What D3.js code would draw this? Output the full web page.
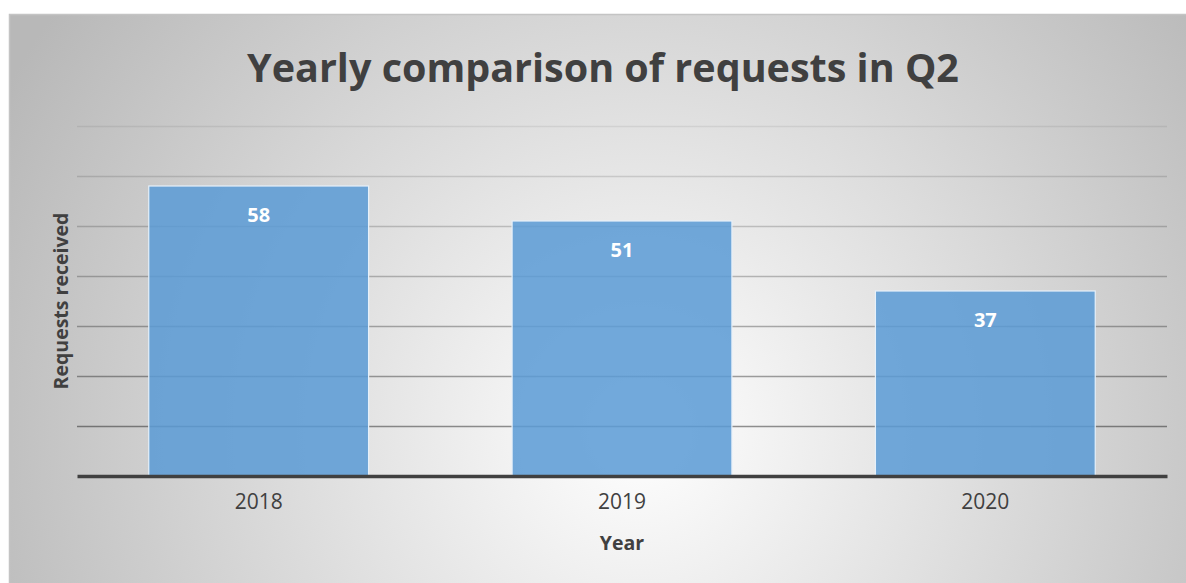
<!DOCTYPE html>
<html>
<head>
<meta charset="utf-8">
<script src="https://cdn.jsdelivr.net/npm/d3@7"></script>
<style>
  body { margin: 0; background: #fff; }
  svg { display: block; font-family: "Open Sans", "DejaVu Sans", sans-serif; }
</style>
</head>
<body>
<svg id="chart"></svg>
<script>
// chart data
const years = ['2018', '2019', '2020'];
const requests = [58, 51, 37];
const yTicks = [0, 10, 20, 30, 40, 50, 60, 70];

const width = 1186, height = 583;
const frame = {x: 9, y: 14};
const margin = {top: 126, right: 19, bottom: 107, left: 77};

const svg = d3.select('#chart')
    .attr('width', width)
    .attr('height', height);

// background gradient for the chart frame
const defs = svg.append('defs');
const bg = defs.append('radialGradient')
    .attr('id', 'bg-grad')
    .attr('gradientUnits', 'userSpaceOnUse')
    .attr('cx', 640).attr('cy', 430).attr('r', 720);
bg.append('stop').attr('offset', 0).attr('stop-color', '#ffffff');
bg.append('stop').attr('offset', 1).attr('stop-color', '#b8b8b8');

svg.append('rect')
    .attr('x', frame.x + 0.5)
    .attr('y', frame.y + 0.5)
    .attr('width', width - frame.x + 10)
    .attr('height', height - frame.y + 10)
    .attr('fill', 'url(#bg-grad)')
    .attr('stroke', '#c4c4c4')
    .attr('stroke-width', 1.5);

const innerW = width - margin.left - margin.right;
const innerH = height - margin.top - margin.bottom;

const chartArea = svg.append('g')
    .attr('transform', `translate(${margin.left},${margin.top})`);

const xScale = d3.scaleBand()
    .domain(years)
    .range([0, innerW])
    .paddingInner(0.395)
    .paddingOuter(0.1975);

const yScale = d3.scaleLinear()
    .domain([0, 70])
    .range([innerH, 0]);

// gridlines (fainter towards the top)
const gridOpacity = d3.scaleLinear()
    .domain([10, 70])
    .range([0.42, 0.07]);

chartArea.selectAll('.grid')
    .data(yTicks.filter(d => d > 0))
    .join('line')
    .attr('class', 'grid')
    .attr('x1', 0)
    .attr('x2', innerW)
    .attr('y1', d => Math.round(yScale(d)) + 0.5)
    .attr('y2', d => Math.round(yScale(d)) + 0.5)
    .attr('stroke', '#000')
    .attr('stroke-opacity', d => gridOpacity(d))
    .attr('stroke-width', 1.5);

// bars
chartArea.selectAll('.bar')
    .data(years)
    .join('rect')
    .attr('class', 'bar')
    .attr('x', d => xScale(d))
    .attr('y', (d, i) => yScale(requests[i]))
    .attr('width', xScale.bandwidth())
    .attr('height', (d, i) => innerH - yScale(requests[i]))
    .attr('fill', '#5b9bd5')
    .attr('fill-opacity', 0.86)
    .attr('stroke', '#e6f0fa')
    .attr('stroke-width', 1.2);

// value labels
chartArea.selectAll('.value')
    .data(years)
    .join('text')
    .attr('class', 'value')
    .attr('x', d => xScale(d) + xScale.bandwidth() / 2)
    .attr('y', (d, i) => yScale(requests[i]) + 36)
    .attr('text-anchor', 'middle')
    .attr('fill', '#ffffff')
    .attr('font-weight', 700)
    .attr('font-size', 20)
    .text((d, i) => requests[i]);

// x axis
const xAxis = d3.axisBottom(xScale)
    .tickSize(0)
    .tickPadding(18);

const xAxisG = chartArea.append('g')
    .attr('class', 'axis x-axis')
    .attr('transform', `translate(0,${innerH})`)
    .call(xAxis);

xAxisG.select('.domain')
    .attr('stroke', '#404040')
    .attr('stroke-width', 3.5);

xAxisG.selectAll('text')
    .attr('fill', '#404040')
    .attr('font-size', 21)
    .attr('font-family', '"Open Sans", sans-serif');

// titles
svg.append('text')
    .attr('x', 603)
    .attr('y', 82)
    .attr('text-anchor', 'middle')
    .attr('fill', '#404040')
    .attr('font-weight', 700)
    .attr('font-size', 39.5)
    .text('Yearly comparison of requests in Q2');

svg.append('text')
    .attr('x', margin.left + innerW / 2)
    .attr('y', 550)
    .attr('text-anchor', 'middle')
    .attr('fill', '#404040')
    .attr('font-weight', 700)
    .attr('font-size', 19.5)
    .text('Year');

svg.append('text')
    .attr('transform', `translate(68,301) rotate(-90)`)
    .attr('text-anchor', 'middle')
    .attr('fill', '#404040')
    .attr('font-weight', 700)
    .attr('font-size', 19.5)
    .text('Requests received');
</script>
</body>
</html>
